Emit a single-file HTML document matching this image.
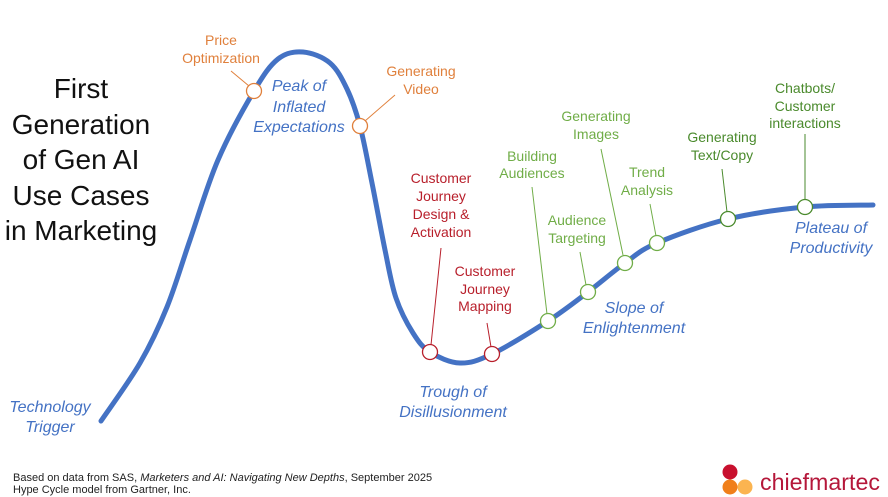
<!DOCTYPE html>
<html>
<head>
<meta charset="utf-8">
<style>
html,body{margin:0;padding:0;background:#fff;}
svg{display:block;}
text{font-family:"Liberation Sans",Arial,sans-serif;}
.t{font-size:28px;fill:#111;text-anchor:middle;}
.l{font-size:14px;text-anchor:middle;}
.p{font-size:16px;font-style:italic;fill:#4472c4;text-anchor:middle;}
.o{fill:#e0803c;}
.r{fill:#b81f2b;}
.g{fill:#70ad47;}
.dg{fill:#4a8a2c;}
.f{font-size:11px;fill:#222;}
</style>
</head>
<body>
<svg width="888" height="497" viewBox="0 0 888 497" xmlns="http://www.w3.org/2000/svg">
<rect width="888" height="497" fill="#fff"/>

<!-- Title -->
<text class="t" x="81" y="98">First</text>
<text class="t" x="81" y="134">Generation</text>
<text class="t" x="81" y="169">of Gen AI</text>
<text class="t" x="81" y="205">Use Cases</text>
<text class="t" x="81" y="240">in Marketing</text>

<!-- Curve -->
<path d="M101,421 C107.5,411.3 129,382 140,363 C151,344 158.7,327.5 167,307 C175.3,286.5 181.5,264.5 190,240 C198.5,215.5 207.3,184.8 218,160 C228.7,135.2 244,107.8 254,91 C264,74.2 269.8,65.5 278,59 C286.2,52.5 294.3,51.3 303,52 C311.7,52.7 322.7,56.8 330,63 C337.3,69.2 342,78.5 347,89 C352,99.5 355.8,110.3 360,126 C364.2,141.7 367.8,162.3 372,183 C376.2,203.7 381,230.8 385,250 C389,269.2 391.3,284.2 396,298 C400.7,311.8 407.3,324 413,333 C418.7,342 422.2,347 430,352 C437.8,357 449.7,362.7 460,363 C470.3,363.3 477.3,361 492,354 C506.7,347 532,331.3 548,321 C564,310.7 575.2,301.7 588,292 C600.8,282.3 613.5,271.2 625,263 C636.5,254.8 639.8,250.3 657,243 C674.2,235.7 703.3,225 728,219 C752.7,213 780.8,209.3 805,207 C829.2,204.7 861.7,205.3 873,205" fill="none" stroke="#4472c4" stroke-width="5" stroke-linecap="round" stroke-linejoin="round"/>

<!-- Leader lines -->
<g stroke-width="1">
<line x1="231" y1="71" x2="249" y2="86" stroke="#e0803c"/>
<line x1="395" y1="95" x2="365" y2="121" stroke="#e0803c"/>
<line x1="441" y1="248" x2="431" y2="345" stroke="#b81f2b"/>
<line x1="487" y1="323" x2="491" y2="347" stroke="#b81f2b"/>
<line x1="532" y1="187" x2="547" y2="314" stroke="#70ad47"/>
<line x1="580" y1="252" x2="586" y2="285" stroke="#70ad47"/>
<line x1="601" y1="149" x2="623" y2="255" stroke="#70ad47"/>
<line x1="650" y1="204" x2="656" y2="236" stroke="#70ad47"/>
<line x1="722" y1="169" x2="727" y2="212" stroke="#4a8a2c"/>
<line x1="805" y1="134" x2="805" y2="200" stroke="#4a8a2c"/>
</g>

<!-- Circles -->
<g fill="#fff" stroke-width="1.3">
<circle cx="254" cy="91" r="7.5" stroke="#e0803c"/>
<circle cx="360" cy="126" r="7.5" stroke="#e0803c"/>
<circle cx="430" cy="352" r="7.5" stroke="#b81f2b"/>
<circle cx="492" cy="354" r="7.5" stroke="#b81f2b"/>
<circle cx="548" cy="321" r="7.5" stroke="#70ad47"/>
<circle cx="588" cy="292" r="7.5" stroke="#70ad47"/>
<circle cx="625" cy="263" r="7.5" stroke="#70ad47"/>
<circle cx="657" cy="243" r="7.5" stroke="#70ad47"/>
<circle cx="728" cy="219" r="7.5" stroke="#4a8a2c"/>
<circle cx="805" cy="207" r="7.5" stroke="#4a8a2c"/>
</g>

<!-- Use case labels -->
<text class="l o" x="221" y="45">Price</text>
<text class="l o" x="221" y="63">Optimization</text>

<text class="l o" x="421" y="76">Generating</text>
<text class="l o" x="421" y="94">Video</text>

<text class="l r" x="441" y="183">Customer</text>
<text class="l r" x="441" y="201">Journey</text>
<text class="l r" x="441" y="219">Design &amp;</text>
<text class="l r" x="441" y="237">Activation</text>

<text class="l r" x="485" y="276">Customer</text>
<text class="l r" x="485" y="294">Journey</text>
<text class="l r" x="485" y="311">Mapping</text>

<text class="l g" x="532" y="161">Building</text>
<text class="l g" x="532" y="178">Audiences</text>

<text class="l g" x="577" y="225">Audience</text>
<text class="l g" x="577" y="243">Targeting</text>

<text class="l g" x="596" y="121">Generating</text>
<text class="l g" x="596" y="139">Images</text>

<text class="l g" x="647" y="177">Trend</text>
<text class="l g" x="647" y="195">Analysis</text>

<text class="l dg" x="722" y="142">Generating</text>
<text class="l dg" x="722" y="160">Text/Copy</text>

<text class="l dg" x="805" y="93">Chatbots/</text>
<text class="l dg" x="805" y="111">Customer</text>
<text class="l dg" x="805" y="128">interactions</text>

<!-- Phase labels -->
<text class="p" x="299" y="91">Peak of</text>
<text class="p" x="299" y="112">Inflated</text>
<text class="p" x="299" y="132">Expectations</text>

<text class="p" x="50" y="412">Technology</text>
<text class="p" x="50" y="432">Trigger</text>

<text class="p" x="453" y="397">Trough of</text>
<text class="p" x="453" y="417">Disillusionment</text>

<text class="p" x="634" y="313">Slope of</text>
<text class="p" x="634" y="333">Enlightenment</text>

<text class="p" x="831" y="233">Plateau of</text>
<text class="p" x="831" y="253">Productivity</text>

<!-- Footer -->
<text class="f" x="13" y="481">Based on data from SAS, <tspan font-style="italic">Marketers and AI: Navigating New Depths</tspan>, September 2025</text>
<text class="f" x="13" y="493">Hype Cycle model from Gartner, Inc.</text>

<!-- Logo -->
<circle cx="730" cy="472" r="7.5" fill="#c8102e"/>
<circle cx="730" cy="487" r="7.5" fill="#f07f1a"/>
<circle cx="745" cy="487" r="7.5" fill="#fbb450"/>
<text x="760" y="490" font-size="23" fill="#b5173a" textLength="120" lengthAdjust="spacingAndGlyphs">chiefmartec</text>
</svg>
</body>
</html>
